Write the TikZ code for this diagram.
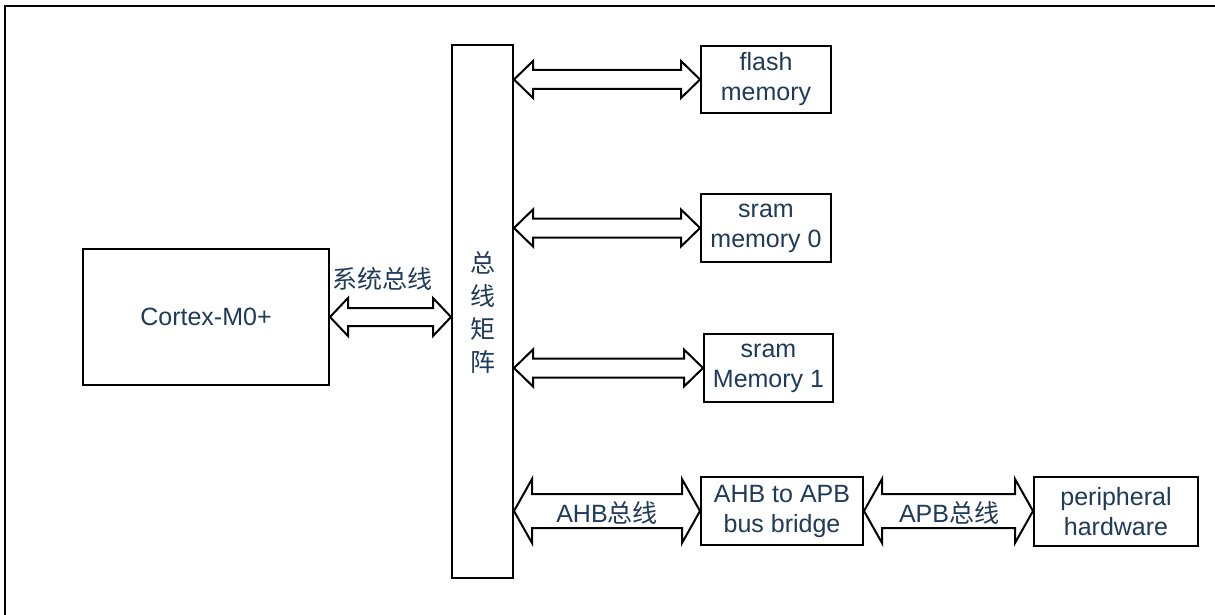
\documentclass[tikz,border=0pt]{standalone}
\usepackage{fontspec}
\setmainfont{Liberation Sans}
\newfontfamily\cjk{Noto Sans CJK SC}
\usetikzlibrary{calc}
\definecolor{txt}{HTML}{1F3A5A}
\newcommand{\dblarr}[5]{%
  \draw[arrshape] let \p1=#1, \p2=#2 in
    (\x1,\y1) -- (\x1+#3pt,\y1+#4pt) -- (\x1+#3pt,\y1+#5pt) -- (\x2-#3pt,\y1+#5pt)
    -- (\x2-#3pt,\y1+#4pt) -- (\x2,\y1) -- (\x2-#3pt,\y1-#4pt) -- (\x2-#3pt,\y1-#5pt)
    -- (\x1+#3pt,\y1-#5pt) -- (\x1+#3pt,\y1-#4pt) -- cycle;}
\begin{document}
\begin{tikzpicture}[x=1pt,y=-1pt,
  box/.style={draw=black, line width=2pt, fill=white, inner sep=0pt, text=txt,
    align=center, font=\fontsize{25}{30}\selectfont},
  lbl/.style={text=txt, inner sep=0pt, font=\fontsize{25}{30}\selectfont},
  arrshape/.style={draw=black, line width=2pt, fill=white, line join=miter}]
\useasboundingbox (0,0) rectangle (1215,615);
\draw[line width=2.5pt] (5,616) -- (5,6) -- (1216,6);
% boxes
\node[box, minimum width=246pt, minimum height=136pt] (cortex) at (206,317) {Cortex-M0+};
\node[box, minimum width=61pt, minimum height=533pt] (matrix) at (482.5,311.5) {};
\node[lbl, align=center, font=\fontsize{25}{33}\selectfont\cjk] (mtxt) at (483,312) {总\\线\\矩\\阵};
\node[box, minimum width=130pt, minimum height=67pt] (flash) at (766,79.5) {flash\\memory};
\node[box, minimum width=130pt, minimum height=68pt] (sram0) at (766,228) {sram\\memory 0};
\node[box, minimum width=129pt, minimum height=68pt] (sram1) at (768.5,368) {sram\\Memory 1};
\node[box, minimum width=162pt, minimum height=68pt] (bridge) at (782,511) {AHB to APB\\bus bridge};
\node[box, minimum width=164pt, minimum height=69pt] (periph) at (1116,511.5) {peripheral\\hardware};
% arrows
\dblarr{(cortex.east)}{(matrix.west |- cortex.east)}{18}{19}{9}
\dblarr{(matrix.east |- flash.west)}{(flash.west)}{19}{18.5}{9.5}
\dblarr{(matrix.east |- sram0.west)}{(sram0.west)}{19}{18.5}{9.5}
\dblarr{(matrix.east |- sram1.west)}{(sram1.west)}{19}{18.5}{9.5}
\dblarr{(matrix.east |- bridge.west)}{(bridge.west)}{18}{32}{17}
\dblarr{(bridge.east)}{(periph.west)}{18}{32}{17}
% labels
\node[lbl] (sysbus) at (382,279) {\cjk 系统总线};
\node[lbl] (ahb) at (607,513) {AHB{\cjk 总线}};
\node[lbl] (apb) at (949,513) {APB{\cjk 总线}};
\end{tikzpicture}
\end{document}
